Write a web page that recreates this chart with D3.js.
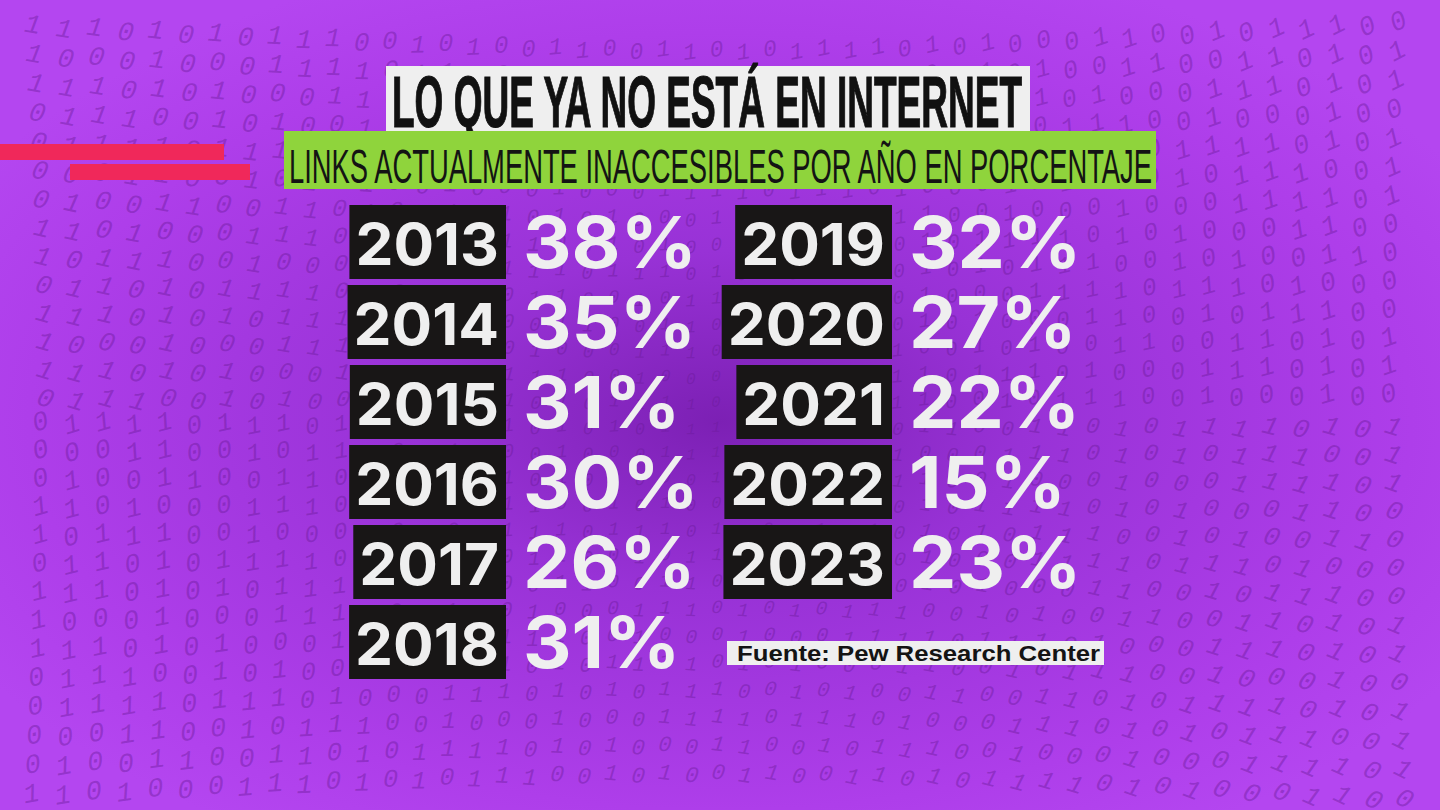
<!DOCTYPE html>
<html>
<head>
<meta charset="utf-8">
<script src="https://cdn.jsdelivr.net/npm/d3@7"></script>
<style>
  html, body { margin: 0; padding: 0; background: #a93ae6; overflow: hidden; }
  svg { display: block; }
</style>
</head>
<body>
<script>
// data
var years = [2013, 2014, 2015, 2016, 2017, 2018, 2019, 2020, 2021, 2022, 2023];
var values = [38, 35, 31, 30, 26, 31, 32, 27, 22, 15, 23];
var title = "LO QUE YA NO ESTÁ EN INTERNET";
var subtitle = "LINKS ACTUALMENTE INACCESIBLES POR AÑO EN PORCENTAJE";
var source = "Fuente: Pew Research Center";
var bitString = "1001011100011010011110001011001110100101100011110100101011100010011011";

var width = 1440,
    height = 810;

var svg = d3.select("body").append("svg")
    .attr("width", width)
    .attr("height", height);

var defs = svg.append("defs");
var grad = defs.append("radialGradient")
    .attr("id", "tunnel")
    .attr("cx", "0.5").attr("cy", "0.52").attr("r", "0.6");
grad.append("stop").attr("offset", "0").attr("stop-color", "#7c20b4");
grad.append("stop").attr("offset", "0.35").attr("stop-color", "#9832d6");
grad.append("stop").attr("offset", "0.8").attr("stop-color", "#ae3eea");
grad.append("stop").attr("offset", "1").attr("stop-color", "#b446f0");

svg.append("rect")
    .attr("width", width).attr("height", height)
    .attr("fill", "url(#tunnel)");

// binary digits in the background, bent round the middle
var cx = 720, cy = 430;
var cells = [];
d3.range(0, 28).forEach(function(r) {
  d3.range(0, 50).forEach(function(c) {
    var x = 14 + c * 29;
    var y = 26 + r * 29 + (c % 2) * 3;
    var dx = x - cx, dy = y - cy;
    var dist = Math.sqrt(dx * dx + dy * dy);
    var pull = Math.max(0, 1 - dist / 900);
    var nx = x - dx * pull * 0.14, ny = y - dy * pull * 0.14;
    var size = 15 + Math.min(dist / 50, 12);
    if (nx < 4 || nx > width - size || ny < size || ny > height - 4) return;
    var ang = (dx / 720) * -20 * (dy < 0 ? 1 : -1) + (dy / 400) * 10;
    cells.push({ r: r, c: c, x: nx, y: ny, a: ang * (1 - pull * 0.3), s: size });
  });
});
var bits = svg.append("g").attr("class", "bits");
bits.selectAll("text")
    .data(cells)
  .enter().append("text")
    .attr("transform", function(d) { return "translate(" + d.x + "," + d.y + ") rotate(" + d.a + ")"; })
    .attr("font-family", "Liberation Mono, DejaVu Sans Mono, monospace")
    .attr("font-style", "italic")
    .attr("font-size", function(d) { return d.s; })
    .attr("fill", "#6a1a98")
    .attr("fill-opacity", 0.42)
    .text(function(d) {
      var i = (d.r * 7 + d.c * 3) % bitString.length;
      return bitString.charAt(i);
    });

// red accent bars
var accents = [
  { x0: 0, x1: 224, y: 144 },
  { x0: 70, x1: 250, y: 164 }
];
svg.selectAll(".accent")
    .data(accents)
  .enter().append("rect")
    .attr("class", "accent")
    .attr("x", function(d) { return d.x0; })
    .attr("y", function(d) { return d.y; })
    .attr("width", function(d) { return d.x1 - d.x0; })
    .attr("height", 16)
    .attr("fill", "#f0285a");

// title
svg.append("rect")
    .attr("x", 386).attr("y", 66).attr("width", 644).attr("height", 66)
    .attr("fill", "#efefef");
svg.append("text")
    .attr("x", 392).attr("y", 127)
    .attr("textLength", 630).attr("lengthAdjust", "spacingAndGlyphs")
    .attr("font-family", "Liberation Sans Narrow, Arial Narrow, sans-serif")
    .attr("font-weight", "bold")
    .attr("font-size", 73)
    .attr("fill", "#111")
    .attr("stroke", "#111")
    .attr("stroke-width", 1.2)
    .text(title);

// subtitle
svg.append("rect")
    .attr("x", 284).attr("y", 131).attr("width", 872).attr("height", 58)
    .attr("fill", "#8fd43c");
svg.append("text")
    .attr("x", 289).attr("y", 183)
    .attr("textLength", 863).attr("lengthAdjust", "spacingAndGlyphs")
    .attr("font-family", "Liberation Sans Narrow, Arial Narrow, sans-serif")
    .attr("font-size", 49)
    .attr("fill", "#141414")
    .text(subtitle);

// rows
var rows = years.map(function(y, i) {
  return { year: y, value: values[i], col: i < 6 ? 0 : 1, row: i < 6 ? i : i - 6 };
});

var yRow = d3.scaleLinear().domain([0, 5]).range([205, 605]);
var xBoxRight = d3.scaleOrdinal().domain([0, 1]).range([506, 892]);
var boxH = 74;

var row = svg.selectAll(".row")
    .data(rows)
  .enter().append("g")
    .attr("class", "row")
    .attr("transform", function(d) { return "translate(" + xBoxRight(d.col) + "," + yRow(d.row) + ")"; });

var box = row.append("rect")
    .attr("fill", "#181616")
    .attr("y", 0)
    .attr("height", boxH);

var yearText = row.append("text")
    .attr("transform", "translate(-7,60) scale(1.04,1)")
    .attr("text-anchor", "end")
    .attr("font-family", "Inter, sans-serif")
    .attr("font-weight", 700)
    .attr("font-size", 58)
    .attr("fill", "#efefef")
    .text(function(d) { return d.year; });

box.each(function(d, i) {
  var bb = yearText.nodes()[i].getBBox();
  var left = -7 + bb.x * 1.04;
  d3.select(this)
      .attr("x", left - 6)
      .attr("width", -left + 6);
});

row.append("text")
    .attr("transform", "translate(17,63) scale(1.06,1)")
    .attr("font-family", "Inter, sans-serif")
    .attr("font-weight", 700)
    .attr("font-size", 71)
    .attr("fill", "#efefef")
    .text(function(d) { return d.value + "%"; });

// source
svg.append("rect")
    .attr("x", 727).attr("y", 641).attr("width", 377).attr("height", 24)
    .attr("fill", "#efefef");
svg.append("text")
    .attr("x", 737).attr("y", 661)
    .attr("textLength", 363).attr("lengthAdjust", "spacingAndGlyphs")
    .attr("font-family", "Liberation Sans, Arial, sans-serif")
    .attr("font-weight", "bold")
    .attr("font-size", 22)
    .attr("fill", "#141414")
    .text(source);
</script>
</body>
</html>
